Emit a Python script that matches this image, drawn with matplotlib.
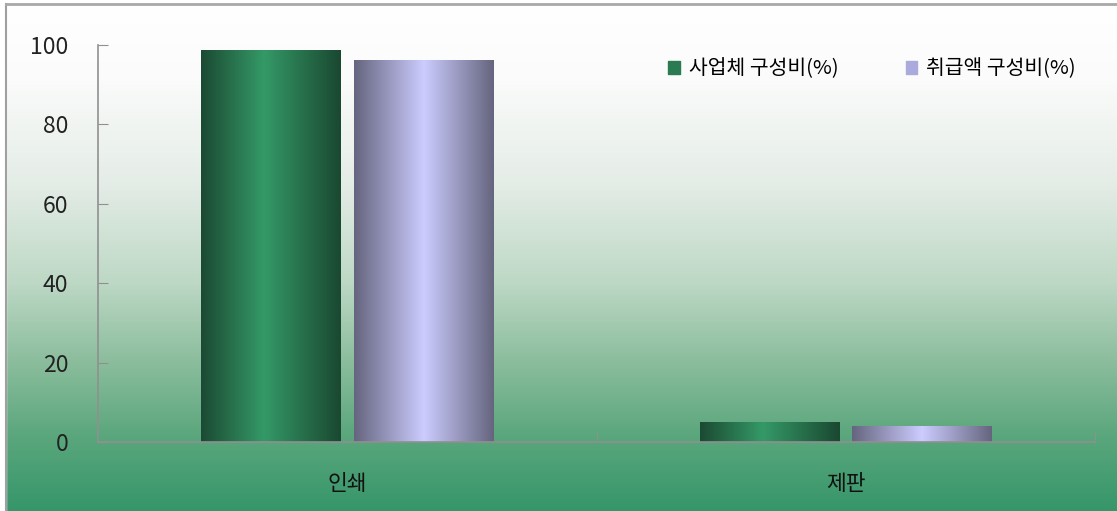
import numpy as np
import matplotlib.pyplot as plt
from matplotlib.colors import LinearSegmentedColormap
from matplotlib.patches import Rectangle

plt.rcParams['font.family'] = ['Noto Sans CJK KR', 'DejaVu Sans']

categories = ['인쇄', '제판']
series_names = ['사업체 구성비(%)', '취급액 구성비(%)']
business_share = [98.5, 4.8]
amount_share = [96.2, 3.8]
y_ticks = [0, 20, 40, 60, 80, 100]

W, H = 1117, 511
fig = plt.figure(figsize=(W / 100, H / 100), dpi=100)

# background gradient over whole figure (inside the grey frame)
bg = fig.add_axes([0, 0, 1, 1], zorder=-10)
bg_cmap = LinearSegmentedColormap.from_list('bg', [
    (0.0, '#ffffff'), (0.15, '#fafbfa'), (0.35, '#e5ede7'),
    (0.55, '#bdd8c5'), (0.70, '#8dbe9e'), (0.85, '#5ca77d'), (1.0, '#36966a')])
grad = np.linspace(0, 1, 256).reshape(-1, 1)
bg.imshow(grad, aspect='auto', cmap=bg_cmap, extent=[6, W, H, 4])
bg.add_patch(Rectangle((0, 0), 6, H, color='white', zorder=2))
bg.plot([6, 6], [4, H], color='#a0a0a0', lw=1.5, zorder=3)
bg.plot([6, W], [4, 4], color='#a8a8a8', lw=2, zorder=3)
bg.set_xlim(0, W)
bg.set_ylim(H, 0)
bg.axis('off')

ax = fig.add_axes([98 / W, 1 - 442 / H, (1095 - 98) / W, (442 - 45) / H])
ax.patch.set_alpha(0)

x = np.arange(len(categories))
width = 0.28
gap = 0.026
green_cmap = LinearSegmentedColormap.from_list('g', [
    (0.0, '#1b4a33'), (0.45, '#349967'), (1.0, '#1a4831')])
purple_cmap = LinearSegmentedColormap.from_list('p', [
    (0.0, '#65657f'), (0.5, '#ccccff'), (1.0, '#65657f')])
hgrad = np.linspace(0, 1, 256).reshape(1, -1)

for vals, off, cmap, name in [
        (business_share, -(width + gap) / 2, green_cmap, series_names[0]),
        (amount_share, (width + gap) / 2, purple_cmap, series_names[1])]:
    bars = ax.bar(x + off, vals, width, color='none', edgecolor='none')
    for b in bars:
        x0, w, h = b.get_x(), b.get_width(), b.get_height()
        ax.imshow(hgrad, aspect='auto', cmap=cmap,
                  extent=[x0, x0 + w, 0, h], zorder=2)

ax.set_xlim(-0.5, 1.5)
ax.set_ylim(0, 100)
ax.set_yticks(y_ticks)
ax.set_yticklabels([str(t) for t in y_ticks], fontsize=16.5, color='#222222')
ax.tick_params(axis='y', direction='in', length=7, color='#909090', pad=21.5)
ax.set_xticks([0.5, 1.5], minor=True)
ax.set_xticks(x)
ax.set_xticklabels(categories, fontsize=15.5, color='#111111')
ax.tick_params(axis='x', which='major', length=0, pad=22)
ax.tick_params(axis='x', which='minor', direction='in', length=7, color='#909090')
for s in ['top', 'right']:
    ax.spines[s].set_visible(False)
for s in ['left', 'bottom']:
    ax.spines[s].set_color('#909090')
    ax.spines[s].set_linewidth(1.2)

# legend
handles = [Rectangle((0, 0), 1, 1, color='#2a7a52'),
           Rectangle((0, 0), 1, 1, color='#aaaadd')]
leg = fig.legend(handles, series_names, loc='upper left', ncol=2,
                 bbox_to_anchor=(650 / W, 1 - 40 / H), frameon=False,
                 fontsize=14.7, handlelength=0.55, handleheight=0.6,
                 handletextpad=0.45, columnspacing=3.3)

fig.savefig('out.png', dpi=100)
